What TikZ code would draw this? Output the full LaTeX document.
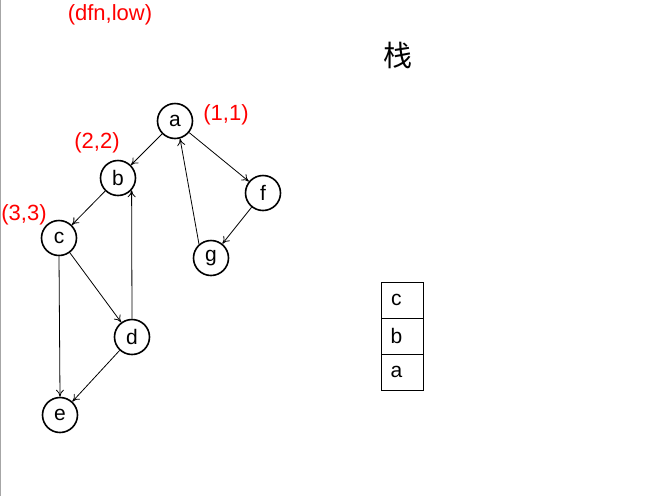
\documentclass[tikz,border=0pt]{standalone}
\usepackage{fontspec}
\setmainfont{Liberation Sans}
\newfontfamily\cjk{Noto Sans CJK SC}
\usetikzlibrary{arrows.meta}
\begin{document}
\begin{tikzpicture}[x=1pt,y=-1pt,
  vtx/.style={circle,draw,line width=1.6pt,minimum size=35pt,inner sep=0pt,font=\fontsize{21}{21}\selectfont},
  lbl/.style={text=red,font=\fontsize{22}{22}\selectfont,inner sep=0pt},
  edge/.style={-{To[length=7pt,width=8pt]},line width=0.8pt},
  cell/.style={draw,line width=0.8pt,minimum width=42pt,minimum height=36pt,inner sep=0pt,font=\fontsize{21}{21}\selectfont,anchor=north west}]
\useasboundingbox (0,0) rectangle (660,496);
\fill[white] (0,0) rectangle (660,496);
\draw[gray!70,line width=1pt] (0.5,0) -- (0.5,496);
\node[vtx] (a) at (175,121) {a};
\node[vtx] (b) at (118,178) {b};
\node[vtx] (c) at (59,238) {c};
\node[vtx] (f) at (263,193) {f};
\node[vtx] (g) at (211,258) {g};
\node[vtx] (d) at (132,337) {d};
\node[vtx] (e) at (60,415) {e};
\node[lbl] (l0) at (110,15) {(dfn,low)};
\node[lbl] (l1) at (226,115) {(1,1)};
\node[lbl] (l2) at (97,143) {(2,2)};
\node[lbl] (l3) at (24,215) {(3,3)};
\node[inner sep=0pt,font=\cjk\fontsize{29}{29}\selectfont] (zh) at (398,55) {栈};
\node[cell] (sc) at (381,282) {\hspace*{-12pt}c};
\node[cell] (sb) at (381,318) {\hspace*{-12pt}b};
\node[cell] (sa) at (381,354) {\hspace*{-12pt}a};
\draw[edge] (a) -- (b);
\draw[edge] (a) -- (f);
\draw[edge] (b) -- (c);
\draw[edge] (c) -- (d);
\draw[edge] (c.south) -- (e.north);
\draw[edge] (d.north) -- (b.-42);
\draw[edge] (d) -- (e);
\draw[edge] (f) -- (g);
\draw[edge] (g.131) -- (a.-74);
\end{tikzpicture}
\end{document}
